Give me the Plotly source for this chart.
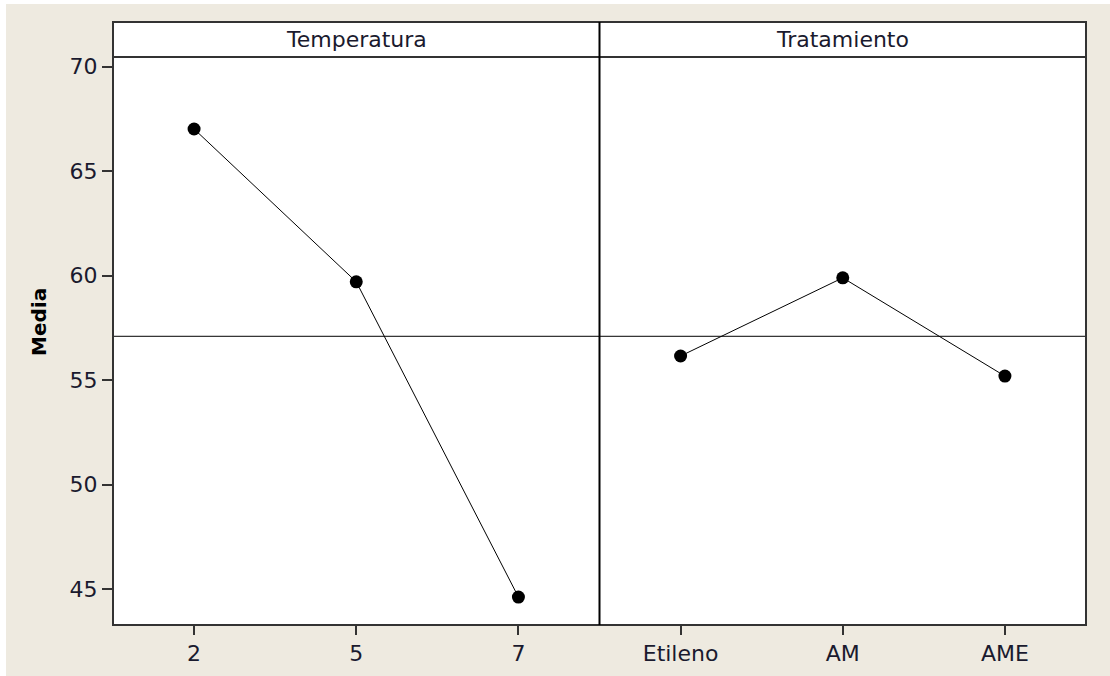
import plotly.graph_objects as go
import numpy as np

# Data
temp_levels = ["2", "5", "7"]
temp_means = [67.02, 59.71, 44.63]
trat_levels = ["Etileno", "AM", "AME"]
trat_means = [56.16, 59.90, 55.20]
y_ticks = [45, 50, 55, 60, 65, 70]

grand_mean = float(np.mean(temp_means + trat_means))

W, H = 1110, 676
L, R, T, B = 113, 1086, 57, 625  # plot area pixels (below header)
HEADER_TOP = 22

def px(x):
    return (x - L) / (R - L)

def py(y):
    return (B - y) / (B - T)

BEIGE = "#EEEAE0"
FRAME = "#333333"
TXT = "#1a1a2e"
FONT = "DejaVu Sans"

fig = go.Figure()
fig.add_trace(go.Scatter(x=temp_levels, y=temp_means, mode="lines+markers",
                         line=dict(color="black", width=1),
                         marker=dict(color="black", size=13),
                         xaxis="x", yaxis="y", showlegend=False))
fig.add_trace(go.Scatter(x=trat_levels, y=trat_means, mode="lines+markers",
                         line=dict(color="black", width=1),
                         marker=dict(color="black", size=13),
                         xaxis="x2", yaxis="y", showlegend=False))

axis_common = dict(type="category", range=[-0.5, 2.5], showgrid=False, zeroline=False,
                   showline=False, ticks="outside", ticklen=9, tickwidth=2, tickcolor=FRAME,
                   tickfont=dict(family=FONT, size=22, color=TXT), ticklabelstandoff=0,
                   automargin=False, fixedrange=True)

fig.update_layout(
    width=W, height=H,
    margin=dict(l=L, r=W - R, t=T, b=H - B, autoexpand=False),
    paper_bgcolor="white",
    plot_bgcolor="white",
    xaxis=dict(domain=[0, 0.5], **axis_common),
    xaxis2=dict(domain=[0.5, 1], anchor="y", **axis_common),
    yaxis=dict(range=[43.292, 70.464], tickvals=y_ticks, showgrid=False, zeroline=False,
               showline=False, ticks="outside", ticklen=10, tickwidth=2, tickcolor=FRAME,
               tickfont=dict(family=FONT, size=22, color=TXT), ticklabelstandoff=0,
               automargin=False),
    shapes=[
        # beige background with thin white border on top/left
        dict(type="rect", xref="paper", yref="paper", x0=px(6), x1=px(W + 20),
             y0=py(H + 20), y1=py(4), fillcolor=BEIGE, line=dict(width=0), layer="below"),
        # white panel area including header
        dict(type="rect", xref="paper", yref="paper", x0=0, x1=1, y0=0, y1=py(HEADER_TOP),
             fillcolor="white", line=dict(width=0), layer="below"),
        # grand mean reference line
        dict(type="line", xref="paper", yref="y", x0=0, x1=1, y0=grand_mean, y1=grand_mean,
             line=dict(color="black", width=1), layer="above"),
        # frame
        dict(type="rect", xref="paper", yref="paper", x0=0, x1=1, y0=0, y1=py(HEADER_TOP),
             line=dict(color=FRAME, width=2), layer="above"),
        dict(type="line", xref="paper", yref="paper", x0=0, x1=1, y0=1, y1=1,
             line=dict(color=FRAME, width=2), layer="above"),
        dict(type="line", xref="paper", yref="paper", x0=0.5, x1=0.5, y0=0, y1=py(HEADER_TOP),
             line=dict(color="black", width=2), layer="above"),
    ],
    annotations=[
        dict(text="Temperatura", xref="paper", yref="paper", x=0.25, y=py(40), showarrow=False,
             font=dict(family=FONT, size=22, color=TXT), xanchor="center", yanchor="middle"),
        dict(text="Tratamiento", xref="paper", yref="paper", x=0.75, y=py(40), showarrow=False,
             font=dict(family=FONT, size=22, color=TXT), xanchor="center", yanchor="middle"),
        dict(text="<b>Media</b>", xref="paper", yref="paper", x=px(39), y=py(322), showarrow=False,
             textangle=-90, font=dict(family=FONT, size=20, color="black"),
             xanchor="center", yanchor="middle"),
    ],
)

fig.write_html("out.html")
